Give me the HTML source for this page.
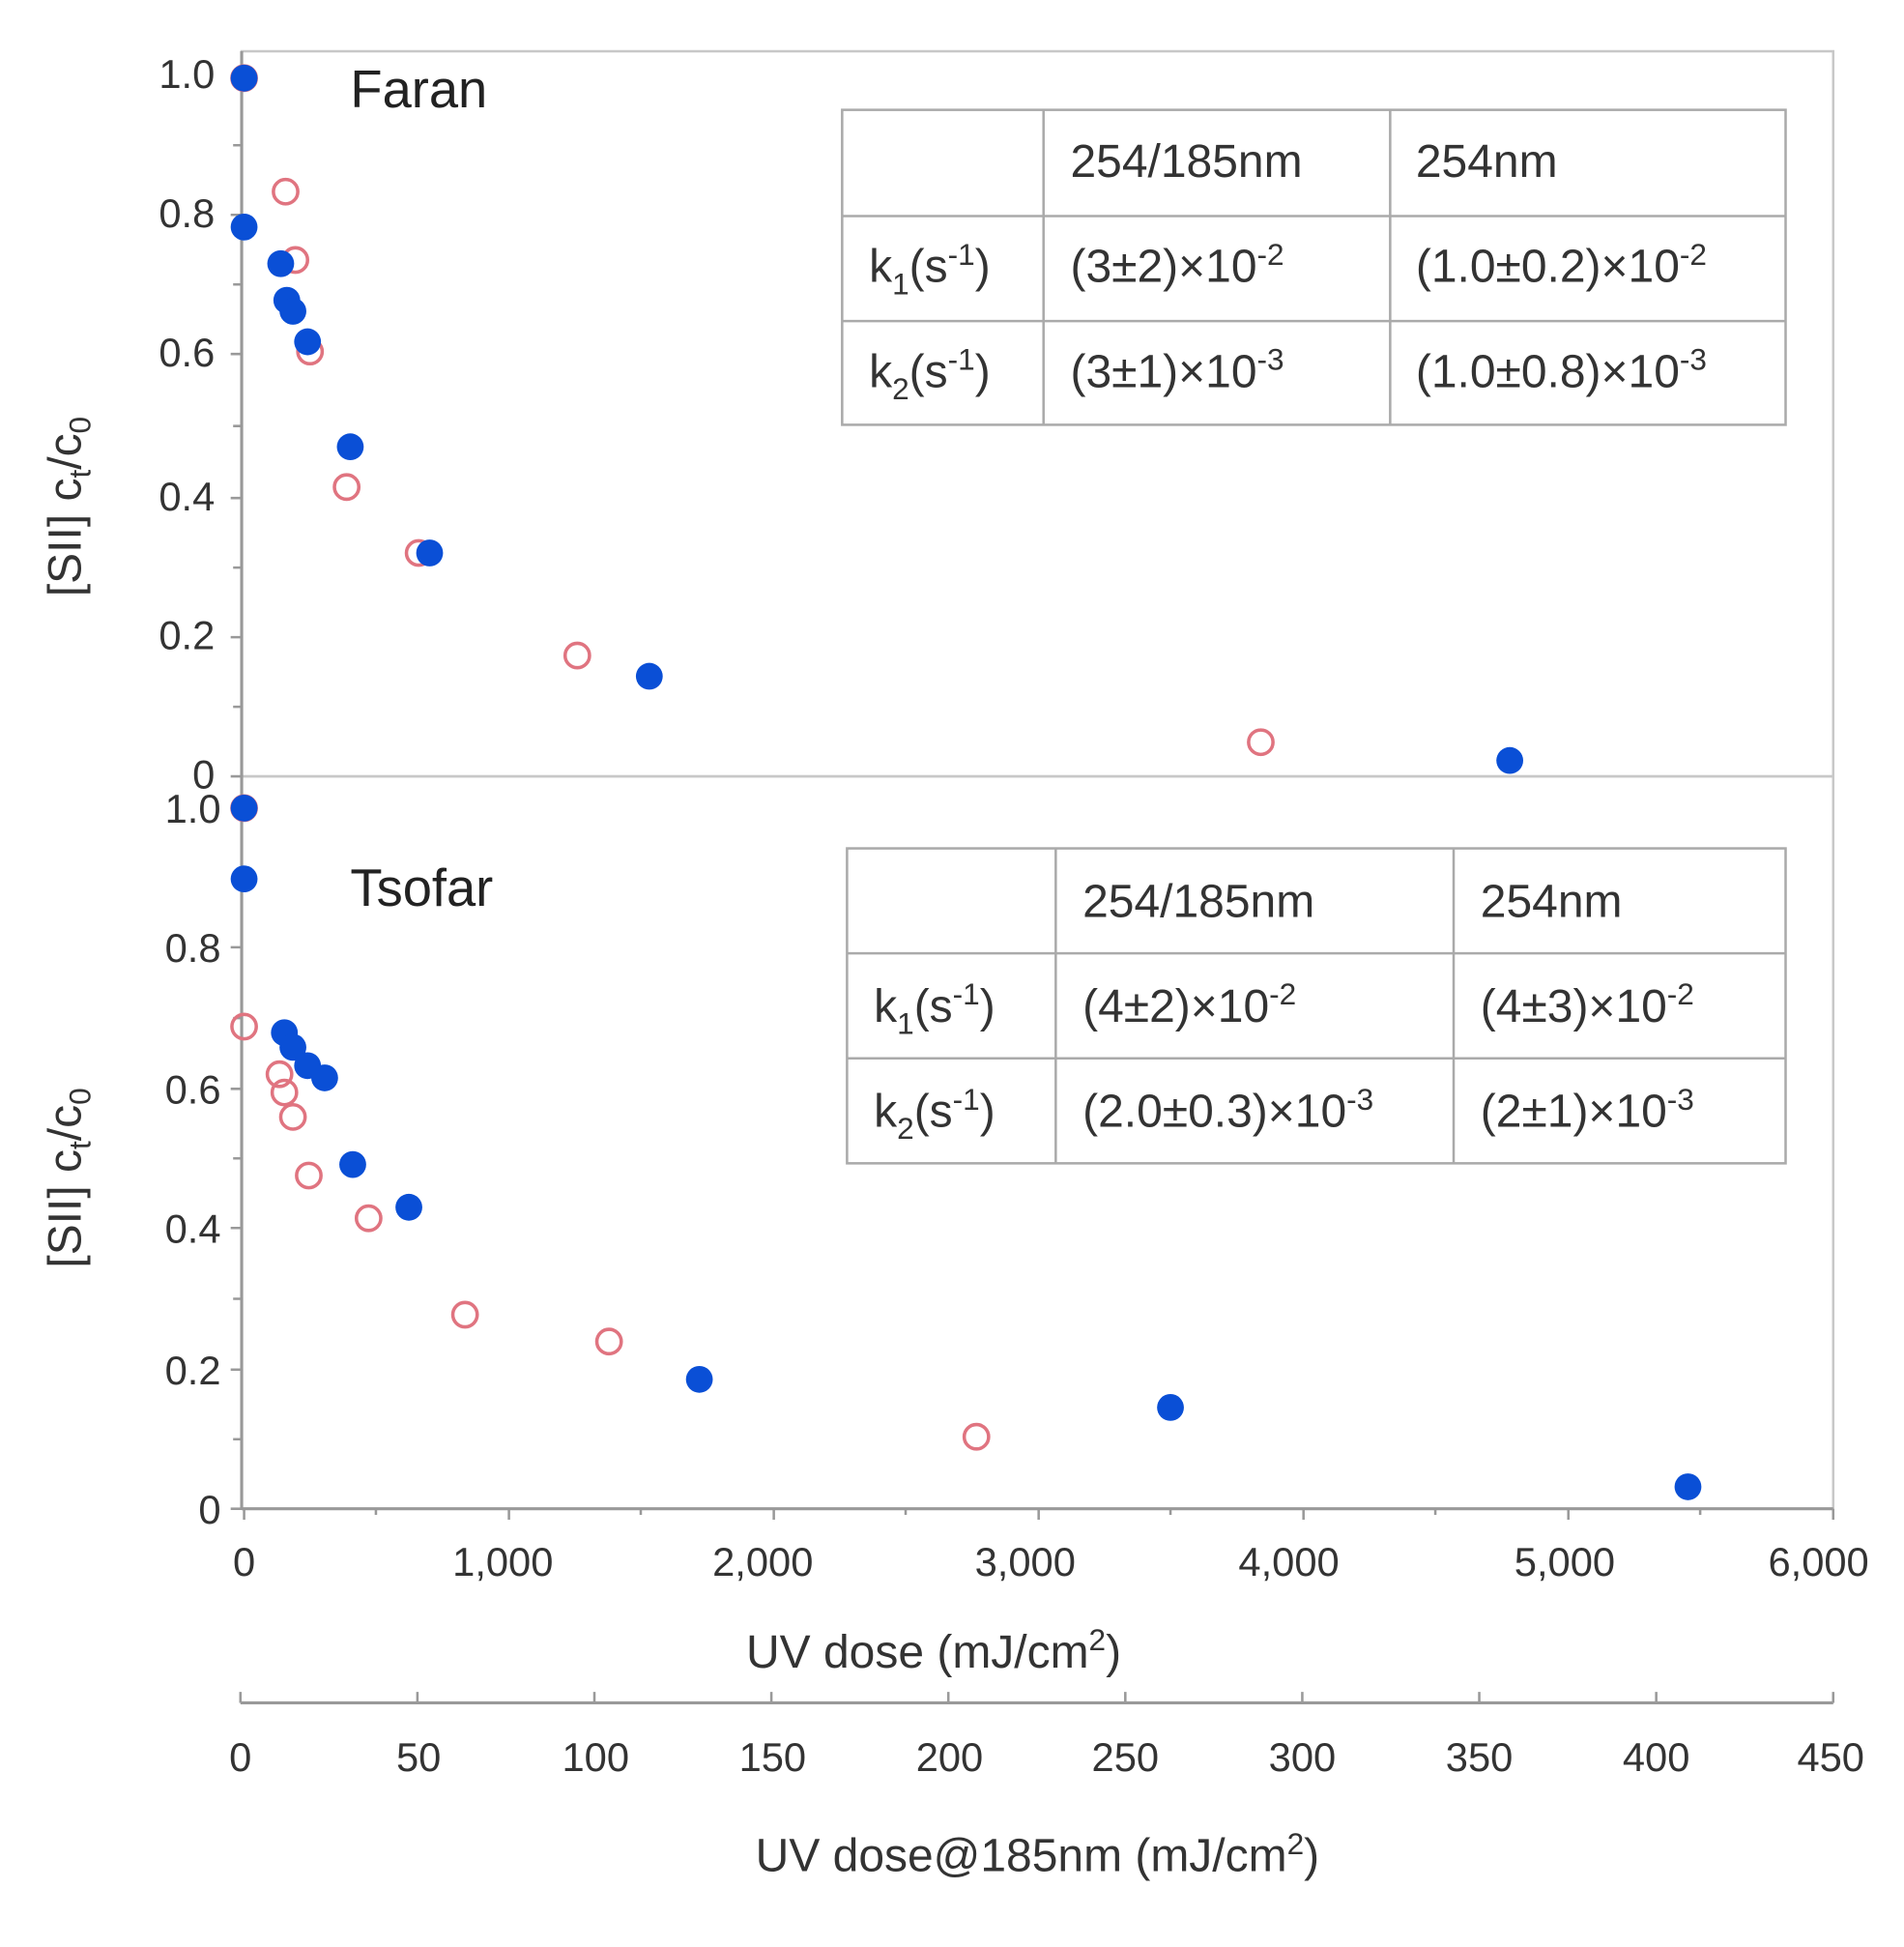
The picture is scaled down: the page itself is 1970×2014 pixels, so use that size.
<!DOCTYPE html>
<html><head><style>html,body{margin:0;padding:0;background:#fff}svg{display:block}</style></head><body>
<svg width="1970" height="2014" viewBox="0 0 1560 1595" preserveAspectRatio="none" xmlns="http://www.w3.org/2000/svg" font-family="Liberation Sans, DejaVu Sans, sans-serif">
<rect width="1560" height="1595" fill="#fff"/>
<g fill="none" stroke="#c8c8c8" stroke-width="2">
<rect x="198" y="42" width="1304" height="594"/>
<rect x="198" y="636" width="1304" height="600"/>
</g>
<g stroke="#999" stroke-width="2.5">
<line x1="198" y1="42" x2="198" y2="636"/>
<line x1="198" y1="636" x2="198" y2="1236"/>
<line x1="198" y1="1236" x2="1502" y2="1236"/>
<line x1="197" y1="1395" x2="1502" y2="1395"/>
</g>
<g stroke="#999" stroke-width="2">
<path d="M189 62H198M191 119H198M189 176H198M191 233H198M189 290H198M191 349H198M189 408H198M191 465H198M189 522H198M191 579H198M189 636H198"/>
<path d="M189 662H198M191 719H198M189 776H198M191 834H198M189 892H198M191 949H198M189 1006H198M191 1064H198M189 1122H198M191 1179H198M189 1236H198"/>
<path d="M200 1236V1245M308 1236V1241M417 1236V1245M525 1236V1241M634 1236V1245M742 1236V1241M851 1236V1245M959 1236V1241M1068 1236V1245M1176 1236V1241M1285 1236V1245M1393 1236V1241M1502 1236V1245"/>
<path d="M197 1386V1395M342 1386V1395M487 1386V1395M632 1386V1395M777 1386V1395M922 1386V1395M1067 1386V1395M1212 1386V1395M1357 1386V1395M1502 1386V1395"/>
</g>
<g font-size="33" fill="#333" text-anchor="end">
<text x="176" y="72">1.0</text><text x="176" y="186">0.8</text><text x="176" y="300">0.6</text><text x="176" y="418">0.4</text><text x="176" y="532">0.2</text><text x="176" y="646">0</text>
<text x="181" y="674">1.0</text><text x="181" y="788">0.8</text><text x="181" y="904">0.6</text><text x="181" y="1018">0.4</text><text x="181" y="1134">0.2</text><text x="181" y="1248">0</text>
</g>
<g font-size="33" fill="#333" text-anchor="middle">
<text x="200" y="1291">0</text><text x="412" y="1291">1,000</text><text x="625" y="1291">2,000</text><text x="840" y="1291">3,000</text><text x="1056" y="1291">4,000</text><text x="1282" y="1291">5,000</text><text x="1490" y="1291">6,000</text>
<text x="197" y="1451">0</text><text x="343" y="1451">50</text><text x="488" y="1451">100</text><text x="633" y="1451">150</text><text x="778" y="1451">200</text><text x="922" y="1451">250</text><text x="1067" y="1451">300</text><text x="1212" y="1451">350</text><text x="1357" y="1451">400</text><text x="1500" y="1451">450</text>
</g>
<g font-size="38" fill="#333" text-anchor="middle">
<text x="765" y="1366">UV dose (mJ/cm<tspan font-size="25" dy="-14">2</tspan><tspan dy="14">)</tspan></text>
<text x="850" y="1533">UV dose@185nm (mJ/cm<tspan font-size="25" dy="-14">2</tspan><tspan dy="14">)</tspan></text>
<text transform="translate(66,415) rotate(-90)">[SII] c<tspan font-size="25" dy="8">t</tspan><tspan dy="-8">/c</tspan><tspan font-size="25" dy="8">0</tspan></text>
<text transform="translate(66,965) rotate(-90)">[SII] c<tspan font-size="25" dy="8">t</tspan><tspan dy="-8">/c</tspan><tspan font-size="25" dy="8">0</tspan></text>
</g>
<text x="287" y="88" font-size="43" fill="#222">Faran</text>
<text x="287" y="742" font-size="43" fill="#222">Tsofar</text>
<g fill="none" stroke="#aaa" stroke-width="2">
<rect x="690" y="90" width="773" height="258"/>
<path d="M855 90V348M1139 90V348M690 177H1463M690 263H1463"/>
<rect x="694" y="695" width="769" height="258"/>
<path d="M865 695V953M1191 695V953M694 781H1463M694 867H1463"/>
</g>
<g font-size="38" fill="#333">
<text x="877" y="145">254/185nm</text><text x="1160" y="145">254nm</text>
<text x="712" y="231">k<tspan font-size="25" dy="10">1</tspan><tspan dy="-10">(s</tspan><tspan font-size="25" dy="-14">-1</tspan><tspan dy="14">)</tspan></text>
<text x="712" y="317">k<tspan font-size="25" dy="10">2</tspan><tspan dy="-10">(s</tspan><tspan font-size="25" dy="-14">-1</tspan><tspan dy="14">)</tspan></text>
<text x="877" y="231">(3±2)×10<tspan font-size="25" dy="-14">-2</tspan></text>
<text x="877" y="317">(3±1)×10<tspan font-size="25" dy="-14">-3</tspan></text>
<text x="1160" y="231">(1.0±0.2)×10<tspan font-size="25" dy="-14">-2</tspan></text>
<text x="1160" y="317">(1.0±0.8)×10<tspan font-size="25" dy="-14">-3</tspan></text>
<text x="887" y="751">254/185nm</text><text x="1213" y="751">254nm</text>
<text x="716" y="837">k<tspan font-size="25" dy="10">1</tspan><tspan dy="-10">(s</tspan><tspan font-size="25" dy="-14">-1</tspan><tspan dy="14">)</tspan></text>
<text x="716" y="923">k<tspan font-size="25" dy="10">2</tspan><tspan dy="-10">(s</tspan><tspan font-size="25" dy="-14">-1</tspan><tspan dy="14">)</tspan></text>
<text x="887" y="837">(4±2)×10<tspan font-size="25" dy="-14">-2</tspan></text>
<text x="887" y="923">(2.0±0.3)×10<tspan font-size="25" dy="-14">-3</tspan></text>
<text x="1213" y="837">(4±3)×10<tspan font-size="25" dy="-14">-2</tspan></text>
<text x="1213" y="923">(2±1)×10<tspan font-size="25" dy="-14">-3</tspan></text>
</g>
<g fill="none" stroke="#e07480" stroke-width="2.8">
<circle cx="200" cy="64" r="10"/><circle cx="234" cy="157" r="10"/><circle cx="242" cy="213" r="10"/><circle cx="254" cy="288" r="10"/><circle cx="284" cy="399" r="10"/><circle cx="343" cy="453" r="10"/><circle cx="473" cy="537" r="10"/><circle cx="1033" cy="608" r="10"/>
<circle cx="200" cy="662" r="10"/><circle cx="200" cy="841" r="10"/><circle cx="229" cy="880" r="10"/><circle cx="233" cy="895" r="10"/><circle cx="240" cy="915" r="10"/><circle cx="253" cy="963" r="10"/><circle cx="302" cy="998" r="10"/><circle cx="381" cy="1077" r="10"/><circle cx="499" cy="1099" r="10"/><circle cx="800" cy="1177" r="10"/>
</g>
<g fill="#0a4fd6">
<circle cx="200" cy="64" r="11"/><circle cx="200" cy="186" r="11"/><circle cx="230" cy="216" r="11"/><circle cx="235" cy="246" r="11"/><circle cx="240" cy="255" r="11"/><circle cx="252" cy="280" r="11"/><circle cx="287" cy="366" r="11"/><circle cx="352" cy="453" r="11"/><circle cx="532" cy="554" r="11"/><circle cx="1237" cy="623" r="11"/>
<circle cx="200" cy="662" r="11"/><circle cx="200" cy="720" r="11"/><circle cx="233" cy="846" r="11"/><circle cx="240" cy="858" r="11"/><circle cx="252" cy="873" r="11"/><circle cx="266" cy="883" r="11"/><circle cx="289" cy="954" r="11"/><circle cx="335" cy="989" r="11"/><circle cx="573" cy="1130" r="11"/><circle cx="959" cy="1153" r="11"/><circle cx="1383" cy="1218" r="11"/>
</g>
</svg>
</body></html>
